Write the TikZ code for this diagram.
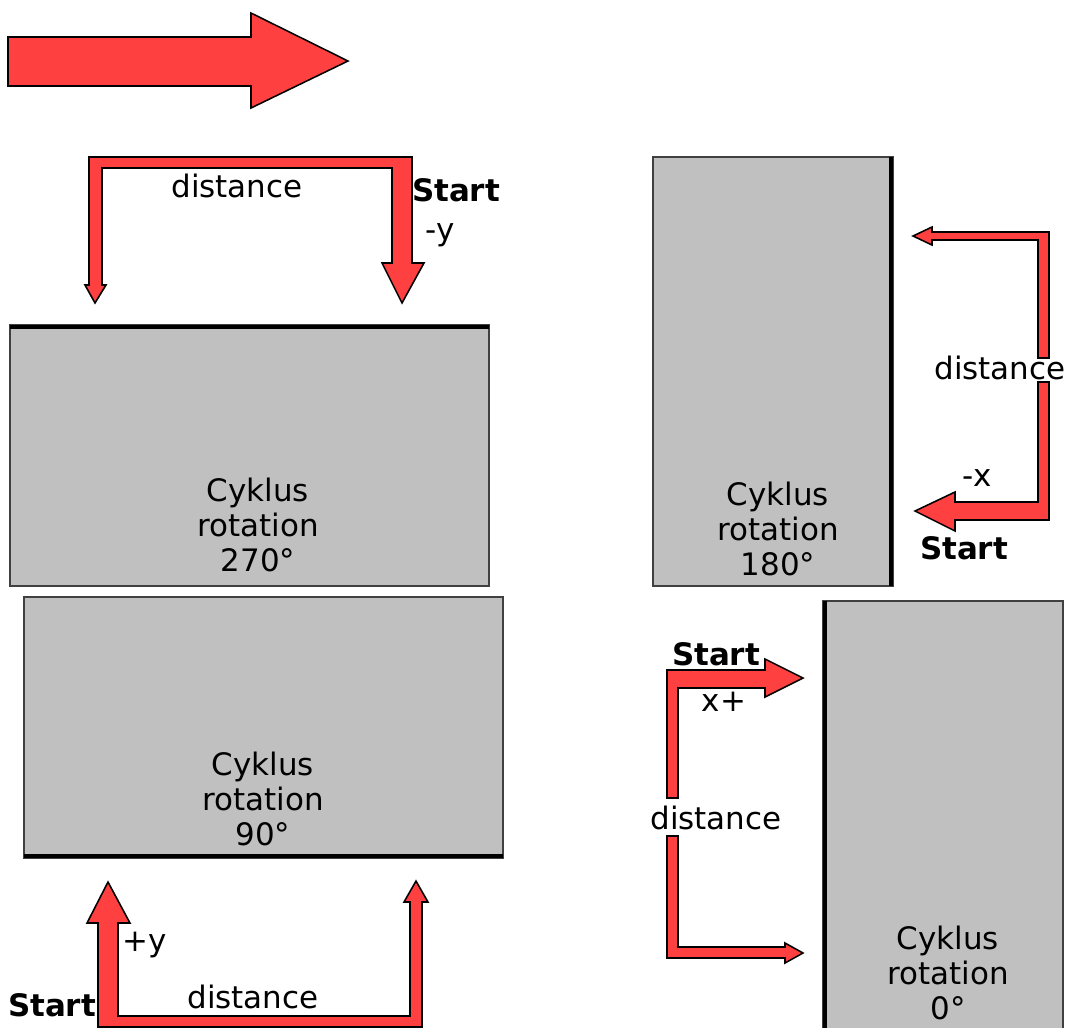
\documentclass[tikz,border=0pt]{standalone}
\usepackage{fontspec}
\setmainfont{DejaVu Sans}
\definecolor{arrowred}{HTML}{FF4040}
\definecolor{plategray}{HTML}{C0C0C0}

\begin{document}
\begin{tikzpicture}[x=0.025cm, y=-0.025cm, line join=miter,
    arrowshape/.style={fill=arrowred, draw=black, line width=1.1pt},
    plate/.style={fill=plategray, draw=black!75, line width=0.9pt},
    edge line/.style={line width=3.2pt, black},
    lbl/.style={font=\fontsize{22}{25}\selectfont, inner sep=1pt, align=center},
    startlbl/.style={font=\fontsize{22}{25}\selectfont\bfseries, inner sep=1pt}]

            \useasboundingbox (0,0) rectangle (1071,1028);

            % big direction arrow
            \draw[arrowshape] (8,37) -- (251,37) -- (251,13) -- (348,61) -- (251,108) -- (251,86) -- (8,86) -- cycle;

            % plates
            \draw[plate] (10,325) rectangle (489,586);
            \draw[edge line] (10,327) -- (489,327);
            \draw[plate] (24,597) rectangle (503,858);
            \draw[edge line] (24,856) -- (503,856);
            \draw[plate] (653,157) rectangle (893,586);
            \draw[edge line] (891,157) -- (891,586);
            \fill[plategray] (823,601) rectangle (1063,1028);
            \draw[black!75, line width=0.9pt] (823,1028) -- (823,601) -- (1063,601) -- (1063,1028);
            \draw[edge line] (825,601) -- (825,1028);

            \node[lbl] (t270) at (258,525) {Cyklus\\rotation\\270°};
            \node[lbl] (t90)  at (263,799) {Cyklus\\rotation\\90°};
            \node[lbl] (t180) at (778,529) {Cyklus\\rotation\\180°};
            \node[lbl] (t0)   at (948,973) {Cyklus\\rotation\\0°};

            % 270: down
            \draw[arrowshape] (89,157) -- (412,157) -- (412,263) -- (424,263) -- (402,303) -- (382,263) -- (392,263) -- (392,168) -- (102,168) -- (102,285) -- (106,285) -- (95,303) -- (85,285) -- (89,285) -- cycle;
            \node[lbl] (d270) at (237,186) {distance};
            \node[startlbl] (s270) at (456,190) {Start};
            \node[lbl] (y270) at (440,235) {-y};

            % 90: up
            \draw[arrowshape] (98,1027) -- (98,923) -- (87,923) -- (108,882) -- (130,923) -- (118,923) -- (118,1016) -- (410,1016) -- (410,902) -- (404,902) -- (416,881) -- (428,902) -- (422,902) -- (422,1027) -- cycle;
            \node[lbl] (d90) at (253,997) {distance};
            \node[startlbl] (s90) at (52,1005) {Start};
            \node[lbl] (y90) at (145,945) {+y};

            % 180: left
            \draw[arrowshape] (1049,358) -- (1049,232) -- (932,232) -- (932,227) -- (913,236) -- (932,245) -- (932,240) -- (1038,240) -- (1038,358) -- cycle;
            \draw[arrowshape] (1038,382) -- (1049,382) -- (1049,520) -- (955,520) -- (955,531) -- (915,511) -- (955,492) -- (955,502) -- (1038,502) -- cycle;
            \node[lbl] (d180) at (1000,368) {distance};
            \node[startlbl] (s180) at (964,548) {Start};
            \node[lbl] (x180) at (977,478) {-x};

            % 0: right
            \draw[arrowshape] (667,798) -- (667,670) -- (765,670) -- (765,659) -- (803,678) -- (765,697) -- (765,688) -- (678,688) -- (678,798) -- cycle;
            \draw[arrowshape] (667,836) -- (678,836) -- (678,947) -- (785,947) -- (785,943) -- (803,953) -- (785,963) -- (785,958) -- (667,958) -- cycle;
            \node[lbl] (d0) at (716,818) {distance};
            \node[startlbl] (s0) at (716,654) {Start};
            \node[lbl] (x0) at (724,702) {x+};

            ;
        \end{tikzpicture}
\end{document}
